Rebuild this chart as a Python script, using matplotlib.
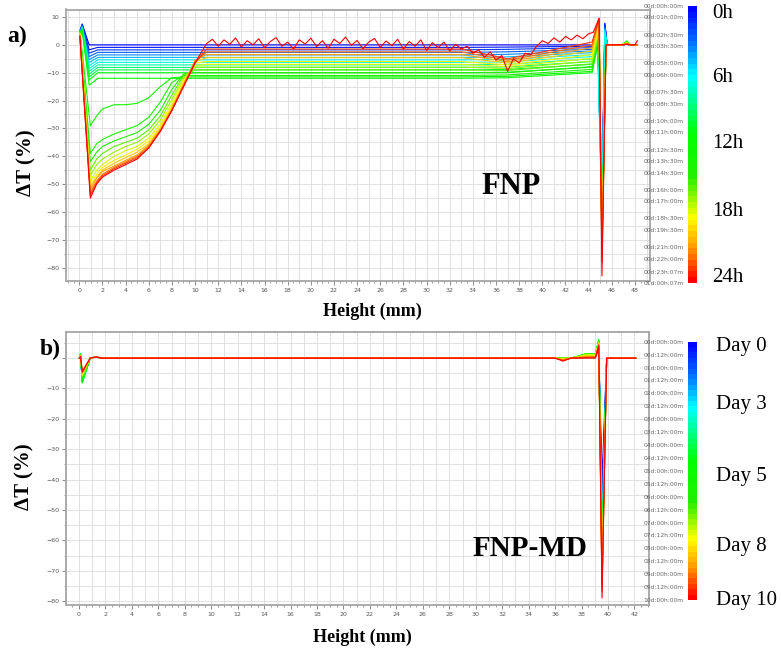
import numpy as np
import matplotlib
matplotlib.use("Agg")
import matplotlib.pyplot as plt
from matplotlib.colors import LinearSegmentedColormap, Normalize
from matplotlib.cm import ScalarMappable
from matplotlib.ticker import MultipleLocator

# ---------------------------------------------------------------- data: panel a (FNP)
fnp_hours = [0, 1, 2, 3, 4, 5, 6, 7, 8, 9, 10, 11, 12, 13, 14, 15, 16, 17, 18, 19, 20, 21, 22, 23, 24]
fnp_plateau = [0.0, -0.9, -1.8, -2.7, -3.6, -4.5, -5.4, -6.3, -7.2, -8.1, -9.0, -10.0, -12.0,
               -11.5, -11.0, -10.0, -9.0, -8.0, -7.0, -6.0, -4.6, -3.5, -2.5, -1.5, 0.5]
fnp_level37 = [0.0, -0.8, -1.6, -2.5, -3.4, -4.3, -5.2, -6.1, -7.0, -7.9, -8.8, -9.8, -11.8,
               -11.3, -10.8, -10.0, -9.2, -8.5, -7.8, -7.2, -6.5, -6.0, -5.5, -5.0, -7.0]
fnp_level44 = [0.0, -0.5, -1.0, -1.6, -2.2, -2.8, -3.5, -4.2, -5.0, -6.0, -7.0, -8.0, -10.0,
               -9.5, -8.8, -7.8, -6.8, -5.8, -4.8, -3.5, -2.2, -1.0, 0.0, 1.0, 4.5]
fnp_peak45 = [7.8, 7.5, 7.0, 6.5, 6.0, 5.5, 5.0, 4.5, 4.0, 3.5, 3.0, 3.0, 3.0,
              3.5, 4.0, 4.5, 5.0, 6.0, 7.0, 8.0, 8.5, 9.0, 9.3, 9.5, 9.6]
fnp_min45 = [-55, -57, -59, -60, -61, -62, -63, -64, -65, -66, -67, -68, -69,
             -70, -71, -72, -72, -73, -73, -74, -74, -75, -76, -78, -83]
fnp_bump47 = [0.2, 0.2, 0.3, 0.3, 0.4, 0.5, 0.6, 0.8, 1.0, 1.1, 1.2, 1.3, 1.4,
              1.3, 1.2, 1.1, 1.0, 0.9, 0.8, 0.7, 0.6, 0.5, 0.4, 0.3, 0.2]
# bottom of the cell, curves 0h..12h (spike then small dip)
fnp_early_spike = [7.5, 7.3, 7.1, 6.9, 6.7, 6.5, 6.3, 6.1, 5.9, 5.7, 5.5, 5.3, 5.0]
fnp_early_dip = [0.0, -1.8, -3.0, -4.2, -5.3, -6.4, -7.5, -8.5, -9.5, -10.5, -11.5, -12.6, -14.5]
# bottom of the cell, curves 13h..24h (clarification front)
fnp_front_x = [0.05, 0.95, 1.5, 2, 3, 4, 5, 6, 7, 8, 9, 10, 11]
fnp_front_13h = [5.0, -29.0, -25.5, -23.0, -21.5, -21.5, -21.0, -19.0, -15.0, -11.8, -11.5, -11.5, -11.5]
fnp_front_14h = [5.0, -39.0, -35.5, -34.0, -32.0, -30.5, -29.0, -26.0, -20.5, -13.5, -11.0, -11.0, -11.0]
fnp_front_15h = [4.5, -42.0, -38.5, -36.5, -34.5, -33.0, -31.5, -28.5, -23.5, -16.0, -10.5, -10.0, -10.0]
fnp_front_16h = [4.5, -45.0, -41.0, -39.0, -36.5, -35.0, -33.5, -30.5, -25.5, -18.0, -11.0, -9.0, -9.0]
fnp_front_17h = [4.0, -47.0, -43.0, -41.0, -38.5, -36.5, -35.0, -32.0, -27.0, -19.5, -12.0, -8.0, -8.0]
fnp_front_18h = [4.0, -49.0, -45.0, -43.0, -40.0, -38.0, -36.5, -33.5, -28.5, -21.0, -12.5, -7.5, -7.0]
fnp_front_19h = [4.0, -50.0, -46.5, -44.0, -41.5, -39.5, -37.5, -34.5, -29.5, -22.0, -13.5, -6.5, -6.0]
fnp_front_20h = [3.5, -51.0, -47.5, -45.0, -42.5, -40.5, -38.5, -35.5, -30.0, -22.5, -14.0, -6.0, -4.6]
fnp_front_21h = [3.5, -52.0, -48.0, -45.5, -43.5, -41.5, -39.5, -36.0, -30.5, -23.0, -14.5, -5.5, -3.5]
fnp_front_22h = [3.5, -53.0, -49.0, -46.5, -44.0, -42.0, -40.0, -36.5, -31.0, -23.5, -14.5, -6.0, -2.5]
fnp_front_23h = [3.0, -54.0, -49.5, -47.0, -44.5, -42.5, -40.5, -37.0, -31.0, -23.5, -15.0, -6.5, -1.5]
fnp_front_24h = [3.0, -55.0, -50.0, -47.5, -45.0, -43.0, -41.0, -37.0, -31.0, -23.5, -15.0, -6.5, 0.5]
fnp_fronts = [fnp_front_13h, fnp_front_14h, fnp_front_15h, fnp_front_16h, fnp_front_17h, fnp_front_18h,
              fnp_front_19h, fnp_front_20h, fnp_front_21h, fnp_front_22h, fnp_front_23h, fnp_front_24h]
# last (24h) profile in the middle of the cell
fnp_red_mid_x = [11.0, 11.5, 12.0, 12.5, 13.0, 13.5, 14.0, 14.5, 15.0, 15.5, 16.0, 16.5, 17.0, 17.5,
                 18.0, 18.5, 19.0, 19.5, 20.0, 20.5, 21.0, 21.5, 22.0, 22.5, 23.0, 23.5, 24.0, 24.5,
                 25.0, 25.5, 26.0, 26.5, 27.0, 27.5, 28.0, 28.5, 29.0, 29.5, 30.0, 30.5, 31.0, 31.5,
                 32.0, 32.5, 33.0, 33.5, 34.0, 34.5, 35.0, 35.5, 36.0, 36.5, 37.0, 37.5, 38.0, 38.5,
                 39.0, 39.5, 40.0, 40.5, 41.0, 41.5, 42.0, 42.5, 43.0, 43.5, 44.0, 44.4]
fnp_red_mid_y = [0.5, 2.0, -0.5, 1.8, 0.2, 2.5, -0.8, 1.5, 0.0, 2.2, -1.0, 1.2, 2.6, -0.5,
                 1.0, -1.5, 1.8, 0.3, 2.4, -0.6, 1.5, -1.2, 2.0, 0.5, 2.8, -0.2, 1.6, -1.4,
                 1.0, 2.3, -0.9, 1.4, -0.3, 2.0, -1.5, 1.2, -0.5, 1.8, -2.0, 0.8, -1.0, 1.0,
                 -2.2, 0.2, -1.5, -0.5, -3.0, -1.8, -4.5, -2.5, -5.5, -3.8, -9.5, -5.0, -6.5, -3.0,
                 -3.5, -0.5, 1.5, 0.5, 2.5, 1.0, 3.0, 1.8, 3.5, 2.2, 4.0, 4.5]
fnp_red_end = 1.5
fnp_cbar_ticks = [0, 1, 2.5, 3.5, 5, 6, 7.5, 8.5, 10, 11, 12.5, 13.5, 14.5, 16, 17, 18.5, 19.5,
                  21, 22, 23.117, 24.117]
fnp_cbar_labels = ["00d:00h:00m", "00d:01h:00m", "00d:02h:30m", "00d:03h:30m", "00d:05h:00m",
                   "00d:06h:00m", "00d:07h:30m", "00d:08h:30m", "00d:10h:00m", "00d:11h:00m",
                   "00d:12h:30m", "00d:13h:30m", "00d:14h:30m", "00d:16h:00m", "00d:17h:00m",
                   "00d:18h:30m", "00d:19h:30m", "00d:21h:00m", "00d:22h:00m", "00d:23h:07m",
                   "01d:00h:07m"]
fnp_side_labels = ["0h", "6h", "12h", "18h", "24h"]

# ---------------------------------------------------------------- data: panel b (FNP-MD)
fnpmd_days = [0, 0.5, 1, 1.5, 2, 2.5, 3, 3.5, 4, 4.5, 5, 5.5, 6, 6.5, 7, 7.5, 8, 8.5, 9, 9.5, 10]
fnpmd_left_peak = [0.6, 0.7, 0.8, 0.9, 1.0, 1.1, 1.2, 1.4, 1.5, 1.5, 1.4, 1.3, 1.2, 1.1, 1.0,
                   0.9, 0.8, 0.7, 0.6, 0.5, 0.5]
fnpmd_left_dip = [-7.5, -7.8, -7.2, -7.0, -6.8, -7.0, -7.4, -7.8, -8.2, -8.0, -7.6, -7.0, -6.6,
                  -6.2, -5.8, -5.5, -5.2, -5.0, -4.8, -4.6, -4.4]
fnpmd_level36 = [0.0, 0.0, 0.0, 0.0, 0.0, 0.0, 0.0, 0.0, 0.0, 0.0, 0.0, 0.0, 0.0, 0.0, 0.0,
                 -0.2, -0.3, -0.5, -0.6, -0.8, -1.0]
fnpmd_bump38 = [0.3, 0.4, 0.5, 0.6, 0.7, 0.8, 0.9, 1.0, 1.2, 1.4, 1.5, 1.5, 1.4, 1.3, 1.2,
                1.0, 0.8, 0.6, 0.4, 0.2, 0.0]
fnpmd_right_peak = [3.0, 3.5, 4.0, 4.5, 5.0, 5.2, 5.5, 5.6, 5.8, 6.0, 6.0, 5.8, 5.6, 5.4, 5.2,
                    5.0, 4.8, 4.6, 4.4, 4.2, 4.0]
fnpmd_right_min = [-40, -46, -50, -54, -57, -60, -62, -64, -65, -66, -67, -68, -69, -70, -71,
                   -72, -73, -74, -75, -77, -79]
fnpmd_cbar_labels = ["00d:00h:00m", "00d:12h:00m", "01d:00h:00m", "01d:12h:00m", "02d:00h:00m",
                     "02d:12h:00m", "03d:00h:00m", "03d:12h:00m", "04d:00h:00m", "04d:12h:00m",
                     "05d:00h:00m", "05d:12h:00m", "06d:00h:00m", "06d:12h:00m", "07d:00h:00m",
                     "07d:12h:00m", "08d:00h:00m", "08d:12h:00m", "09d:00h:00m", "09d:12h:00m",
                     "10d:00h:00m"]
fnpmd_side_labels = ["Day 0", "Day 3", "Day 5", "Day 8", "Day 10"]

# ---------------------------------------------------------------- style
W, H = 781, 651
SERIF = ["Liberation Serif", "DejaVu Serif"]
cmap = LinearSegmentedColormap.from_list(
    "turbi", [(0.0, "#0000ff"), (0.13, "#0077ff"), (0.25, "#00ffff"), (0.46, "#00ff00"),
              (0.62, "#22ee00"), (0.77, "#ffff00"), (0.88, "#ff9900"), (1.0, "#ff0000")], N=48)


def fx(px):
    return px / W


def fy(py):
    return 1 - py / H


def style_axes(ax, xmax_tick, xlim, ylim, ytop_tick, hide_zero=False):
    ax.set_xlim(*xlim)
    ax.set_ylim(*ylim)
    for s in ax.spines.values():
        s.set_color("#a6a6a6")
        s.set_linewidth(1.3)
    for xv in np.arange(-1, xlim[1] + 0.01, 1.0):
        ax.axvline(xv, color="#dcdcdc", lw=0.6, zorder=0)
    for yv in np.arange(-85, ylim[1], 5.0):
        ax.axhline(yv, color="#dcdcdc", lw=0.6, zorder=0)
    ax.set_xticks(np.arange(0, xmax_tick + 0.1, 2))
    ax.xaxis.set_minor_locator(MultipleLocator(0.5))
    yt = np.arange(-80, ytop_tick + 0.1, 10)
    ax.set_yticks(yt)
    if hide_zero:
        ax.set_yticklabels(["" if v == 0 else "\u2212%d" % abs(v) for v in yt])
    ax.yaxis.set_minor_locator(MultipleLocator(5))
    ax.tick_params(which="major", direction="out", length=3, width=0.6, color="#777777",
                   labelsize=4.5, labelcolor="#555555", pad=2)
    ax.tick_params(which="minor", direction="out", length=1.6, width=0.5, color="#777777")


def style_cbar(cax, norm, ticks, labels):
    cb = fig.colorbar(ScalarMappable(norm=norm, cmap=cmap), cax=cax)
    cb.outline.set_visible(False)
    cax.invert_yaxis()
    cax.yaxis.set_ticks_position("left")
    cb.set_ticks(ticks)
    cb.set_ticklabels(labels)
    cax.tick_params(length=0, pad=3, labelsize=4.3, labelcolor="#666666")
    return cb


fig = plt.figure(figsize=(7.81, 6.51), dpi=100)

# ---------------------------------------------------------------- panel a
axa = fig.add_axes([fx(66), fy(281), fx(650) - fx(66), (281 - 9.5) / H])
style_axes(axa, 48, (-1.15, 49.3), (-84.8, 12.7), 10)
norm_a = Normalize(0, 24.117)
n_a = len(fnp_hours)
for i, hr in enumerate(fnp_hours):
    col = cmap(norm_a(hr))
    P = fnp_plateau[i]
    if hr <= 12:
        sp = fnp_early_spike[i]
        xs = [0.05, 0.25, 0.85, 1.6]
        ys = [sp - 2.5, sp, fnp_early_dip[i], P]
    else:
        xs = list(fnp_front_x)
        ys = list(fnp_fronts[hr - 13])
    if i == n_a - 1:
        xs += fnp_red_mid_x[1:]
        ys += fnp_red_mid_y[1:]
    else:
        xs += [33.0, 37.0, 44.3]
        ys += [P, fnp_level37[i], fnp_level44[i]]
    if hr < 8:
        xs += [44.8, 45.15, 45.4, 45.6]
        ys += [fnp_level44[i] + 1.0, fnp_min45[i], fnp_peak45[i], 0.0]
    else:
        xs += [44.9, 45.15, 45.5]
        ys += [fnp_peak45[i], fnp_min45[i], 0.0]
    end = fnp_red_end if i == n_a - 1 else 0.0
    xs += [46.9, 47.3, 47.6, 48.0, 48.2]
    ys += [0.0, fnp_bump47[i], 0.0, 0.0, end]
    axa.plot(xs, ys, color=col, lw=0.8, zorder=2 + i * 0.01)

cax_a = fig.add_axes([fx(688), fy(283), 9 / W, 277 / H])
style_cbar(cax_a, norm_a, fnp_cbar_ticks, fnp_cbar_labels)
for lab, py in zip(fnp_side_labels, [13, 77, 144, 211, 278]):
    fig.text(fx(712), fy(py), lab, ha="left", va="center", fontsize=15, family=SERIF)

fig.text(fx(17), fy(36), "a)", ha="center", va="center", fontsize=17, fontweight="bold", family=SERIF)
fig.text(fx(26), fy(163), "ΔT (%)", ha="center", va="center", rotation=90, fontsize=15,
         fontweight="bold", family=SERIF)
fig.text(fx(372), fy(311), "Height (mm)", ha="center", va="center", fontsize=13,
         fontweight="bold", family=SERIF)
fig.text(fx(511), fy(186), "FNP", ha="center", va="center", fontsize=22,
         fontweight="bold", family=SERIF)

# ---------------------------------------------------------------- panel b
axb = fig.add_axes([fx(66), fy(605), fx(649) - fx(66), (605 - 332) / H])
style_axes(axb, 42, (-0.98, 43.1), (-81.3, 8.6), 0, hide_zero=True)
norm_b = Normalize(0, 10)
for i, d in enumerate(fnpmd_days):
    col = cmap(norm_b(d))
    xs = [0.03, 0.12, 0.25, 0.85, 1.3, 1.7, 36.0, 36.6, 37.2, 38.4, 39.05, 39.3, 39.55, 39.9, 42.1]
    ys = [0.0, fnpmd_left_peak[i], fnpmd_left_dip[i], 0.0, 0.4, 0.0, 0.0, fnpmd_level36[i], 0.0,
          fnpmd_bump38[i], fnpmd_bump38[i], fnpmd_right_peak[i], fnpmd_right_min[i], 0.0, 0.0]
    axb.plot(xs, ys, color=col, lw=0.8, zorder=2 + i * 0.01)

cax_b = fig.add_axes([fx(688), fy(600), 9 / W, (600 - 341.7) / H])
style_cbar(cax_b, norm_b, fnpmd_days, fnpmd_cbar_labels)
for lab, py in zip(fnpmd_side_labels, [347, 404, 476, 547, 600]):
    fig.text(fx(716), fy(py), lab, ha="left", va="center", fontsize=15, family=SERIF)

fig.text(fx(50), fy(349), "b)", ha="center", va="center", fontsize=17, fontweight="bold", family=SERIF)
fig.text(fx(24), fy(477), "ΔT (%)", ha="center", va="center", rotation=90, fontsize=15,
         fontweight="bold", family=SERIF)
fig.text(fx(362), fy(637), "Height (mm)", ha="center", va="center", fontsize=13,
         fontweight="bold", family=SERIF)
fig.text(fx(530), fy(548), "FNP-MD", ha="center", va="center", fontsize=21,
         fontweight="bold", family=SERIF)

fig.savefig("out.png", dpi=100)
